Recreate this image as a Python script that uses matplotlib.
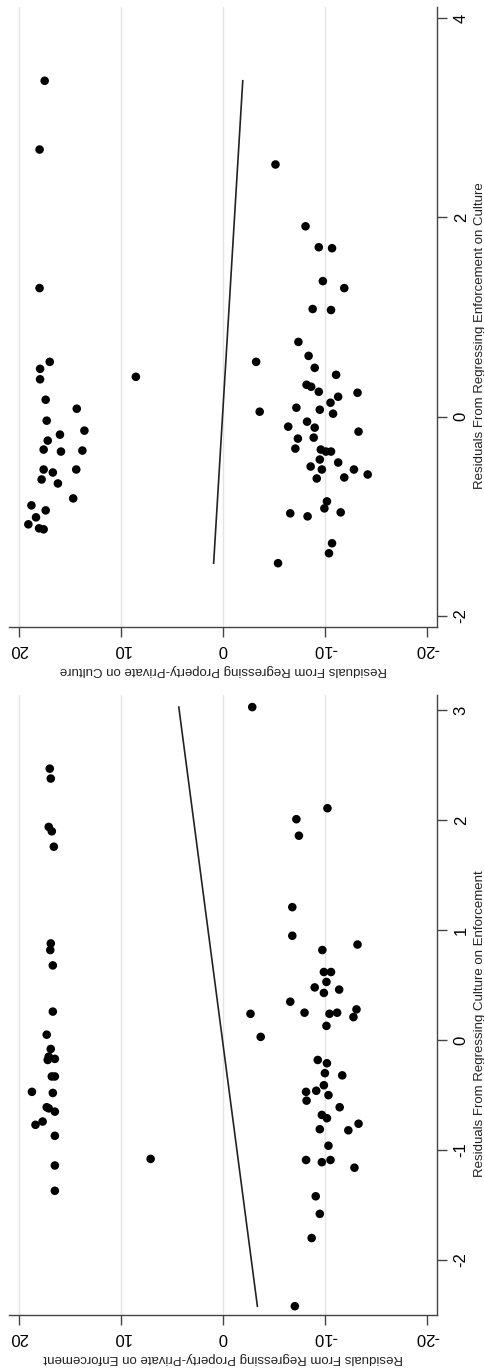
import numpy as np
import matplotlib
matplotlib.use("Agg")
import matplotlib.pyplot as plt

plt.rcParams['font.family'] = ['Liberation Sans', 'DejaVu Sans']
plt.rcParams['axes.unicode_minus'] = False

# Panel 1 (top): residuals of Enforcement on Culture vs Property-Private on Culture
top_x = [3.37, 2.68, 1.29, 0.55, 0.48, 0.375, 0.17, 0.08, -0.04, -0.14, -0.18, -0.24, -0.34, -0.35,
         -0.33, -0.53, -0.56, -0.53, -0.63, -0.67, -0.82, -0.89, -0.94, -1.01, -1.08, -1.12, -1.13,
         0.40,
         2.53, 1.91, 1.70, 1.69, 1.36, 1.29, 1.08, 1.07, 0.75, 0.61, 0.49, 0.42, 0.55, 0.32, 0.30,
         0.25, 0.24, 0.20, 0.14, 0.09, 0.07, 0.05, 0.03, -0.05, -0.10, -0.11, -0.15, -0.22, -0.21,
         -0.32, -0.33, -0.35, -0.35, -0.43, -0.46, -0.50, -0.53, -0.53, -0.58, -0.62, -0.61, -0.85,
         -0.92, -0.97, -1.00, -0.96, -1.27, -1.37, -1.47]
top_y = [17.5, 18.0, 18.0, 17.0, 17.95, 17.95, 17.4, 14.35, 17.3, 13.6, 16.0, 17.2, 13.8, 15.9,
         17.6, 17.6, 16.7, 14.4, 17.8, 16.2, 14.7, 18.8, 17.4, 18.35, 19.1, 18.05, 17.6,
         8.55,
         -5.15, -8.1, -9.4, -10.7, -9.8, -11.9, -8.8, -10.6, -7.4, -8.4, -9.0, -11.1, -3.25, -8.2, -8.65,
         -9.4, -13.2, -11.3, -10.55, -7.2, -9.5, -3.6, -10.8, -8.25, -6.4, -9.0, -13.3, -7.35, -8.9,
         -7.1, -9.6, -10.1, -10.6, -9.5, -11.3, -8.6, -9.7, -12.85, -14.2, -9.2, -11.9, -10.2,
         -9.95, -6.6, -8.3, -11.55, -10.7, -10.4, -5.4]
top_fit = (-0.59, 0.05)  # slope, intercept

# Panel 2 (bottom): residuals of Culture on Enforcement vs Property-Private on Enforcement
bot_x = [2.47, 2.38, 1.94, 1.90, 1.76, 0.88, 0.82, 0.68, 0.26, 0.05, -0.08, -0.15, -0.17, -0.18,
         -0.33, -0.33, -0.47, -0.48, -0.61, -0.62, -0.65, -0.74, -0.77, -0.87, -1.14, -1.37,
         -1.08,
         3.03, 2.11, 2.01, 1.86, 1.21, 0.95, 0.87, 0.82, 0.62, 0.62, 0.53, 0.48, 0.46, 0.43, 0.35,
         0.24, 0.25, 0.24, 0.25, 0.28, 0.21, 0.13, 0.03, -0.18, -0.21, -0.30, -0.32, -0.41, -0.46,
         -0.47, -0.55, -0.50, -0.61, -0.68, -0.71, -0.76, -0.81, -0.82, -0.96, -1.09, -1.11, -1.09,
         -1.16, -1.42, -1.58, -1.80, -2.42]
bot_y = [17.0, 16.9, 17.1, 16.8, 16.6, 16.9, 16.95, 16.7, 16.7, 17.3, 16.9, 17.1, 16.5, 17.2,
         16.8, 16.5, 18.75, 16.7, 17.3, 17.1, 16.5, 17.7, 18.4, 16.5, 16.5, 16.5,
         7.1,
         -2.87, -10.25, -7.2, -7.45, -6.8, -6.8, -13.2, -9.75, -9.9, -10.6, -10.15, -9.0, -11.4, -9.9, -6.6,
         -2.7, -8.0, -10.45, -11.2, -13.1, -12.8, -10.15, -3.7, -9.3, -10.2, -10.0, -11.7, -9.9, -9.15,
         -8.15, -8.2, -10.35, -11.45, -9.7, -10.2, -13.3, -9.5, -12.3, -10.35, -8.15, -9.7, -10.55,
         -12.9, -9.1, -9.5, -8.7, -7.05]
bot_fit = (1.415, 0.05)

panels = [
    dict(x=top_x, y=top_y, fit=top_fit, xticks=[-2, 0, 2, 4], xlim=(-2.11, 4.11),
         xlabel="Residuals From Regressing Enforcement on Culture",
         ylabel="Residuals From Regressing Property-Private on Culture",
         rect=[9/485, 1 - 627/1371, 428/485, 620/1371]),
    dict(x=bot_x, y=bot_y, fit=bot_fit, xticks=[-2, -1, 0, 1, 2, 3], xlim=(-2.5, 3.14),
         xlabel="Residuals From Regressing Culture on Enforcement",
         ylabel="Residuals From Regressing Property-Private on Enforcement",
         rect=[9/485, 1 - 1315/1371, 428/485, 620/1371]),
]

fig = plt.figure(figsize=(4.85, 13.71), dpi=100)
axcol = '#444444'

for p in panels:
    ax = fig.add_axes(p['rect'])
    # page is turned 90 deg: residual y goes left->right reversed, residual x goes up
    for g in [20, 10, 0, -10]:
        ax.axvline(g, color='#e4e4e4', lw=1, zorder=0)
    ax.scatter(p['y'], p['x'], s=38, color='black', edgecolors='none', zorder=3)
    xs = np.array([min(p['x']), max(p['x'])])
    ax.plot(p['fit'][0] * xs + p['fit'][1], xs, color='#222222', lw=1.2, zorder=2)

    ax.set_xlim(21, -21)
    ax.set_ylim(*p['xlim'])
    ax.set_xticks([20, 10, 0, -10, -20])
    ax.set_yticks(p['xticks'])

    ax.spines['left'].set_visible(False)
    ax.spines['top'].set_visible(False)
    for s in ['bottom', 'right']:
        ax.spines[s].set_color(axcol)
        ax.spines[s].set_linewidth(1)

    ax.yaxis.tick_right()
    ax.tick_params(axis='x', direction='out', length=7, width=1, color=axcol,
                   labelsize=12, labelrotation=180, pad=4)
    ax.tick_params(axis='y', direction='out', length=7, width=1, color=axcol,
                   labelsize=12, labelrotation=90, pad=5)
    for t in ax.get_yticklabels():
        t.set_va('center')

    ax.set_xlabel(p['ylabel'], fontsize=9.5, rotation=180, va='center', color='#222222')
    ax.xaxis.set_label_coords(0.5, -0.07)
    ax.yaxis.set_label_position('right')
    ax.set_ylabel(p['xlabel'], fontsize=9.5, rotation=90, va='center', color='#222222')
    ax.yaxis.set_label_coords(1.10, 0.47)

fig.savefig('out.png', dpi=100)
